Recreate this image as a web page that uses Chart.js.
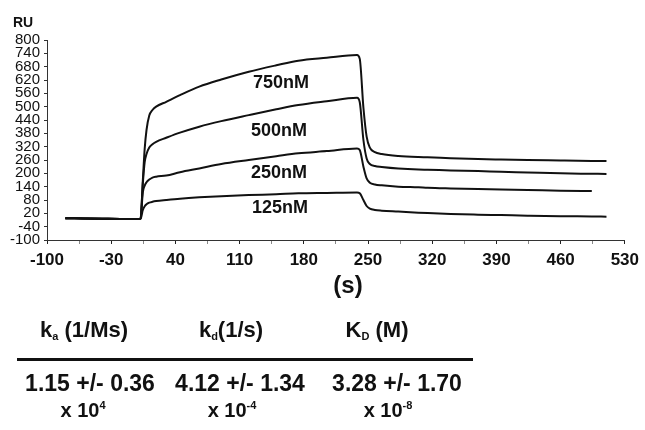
<!DOCTYPE html>
<html lang="en">

<head>
    <title>SPR sensorgram</title>
    <meta charset="utf-8">
    <script src="https://cdn.jsdelivr.net/npm/chart.js"></script>
    <style>
        body { margin: 0; background: #fff; }
        #wrap { position: relative; width: 645px; height: 430px; font-family: 'Liberation Sans', Arial, sans-serif; color: #111; }
        #wrap canvas { position: absolute; left: 0; top: 0; }
        .t { position: absolute; transform: translate(-50%, -50%); white-space: nowrap; font-weight: bold; line-height: 1; }
        .t sub { font-size: 50%; line-height: 0; vertical-align: -0.25em; }
        .t sup { font-size: 55%; line-height: 0; vertical-align: 0.7em; }
        .conc { font-size: 18px; }
        .hdr { font-size: 22px; }
        .val { font-size: 23px; }
        .exp { font-size: 20px; }
        #rule { position: absolute; left: 17px; top: 358px; width: 456px; height: 3px; background: #111; }
    </style>
</head>

<body>
    <div id="wrap">
        <canvas id="sprChart" width="645" height="430"></canvas>

        <div class="t" style="left:23px; top:22px; font-size:14px;">RU</div>
        <div class="t" style="left:348px; top:285px; font-size:24px;">(s)</div>

        <div class="t conc" style="left:281px; top:82px;">750nM</div>
        <div class="t conc" style="left:279px; top:130px;">500nM</div>
        <div class="t conc" style="left:279px; top:172px;">250nM</div>
        <div class="t conc" style="left:280px; top:207px;">125nM</div>

        <div class="t hdr" style="left:84px; top:330px;">k<sub>a</sub> (1/Ms)</div>
        <div class="t hdr" style="left:231px; top:330px;">k<sub>d</sub>(1/s)</div>
        <div class="t hdr" style="left:377px; top:330px;">K<sub>D</sub> (M)</div>
        <div id="rule"></div>
        <div class="t val" style="left:90px; top:383px;">1.15 +/- 0.36</div>
        <div class="t val" style="left:240px; top:383px;">4.12 +/- 1.34</div>
        <div class="t val" style="left:397px; top:383px;">3.28 +/- 1.70</div>
        <div class="t exp" style="left:83px; top:410px;">x 10<sup>4</sup></div>
        <div class="t exp" style="left:232px; top:410px;">x 10<sup>-4</sup></div>
        <div class="t exp" style="left:388px; top:410px;">x 10<sup>-8</sup></div>
    </div>

    <script>
        // time (s) shared by all four sensorgrams
        const times = [-80, -60, -40, -20, 0, 2, 4.5, 6.5, 8.5, 11.5, 15, 19, 30, 45, 66, 90, 120, 150, 174, 205, 238,
            241, 245, 248.5, 252, 257.5, 265, 283, 305, 315, 340, 370, 395, 424, 460, 494, 510];

        // response (RU)
        const ru750 = [-2, -3, -4, -5, -5, -4, 170, 310, 395, 460, 485, 500, 522, 552, 590, 622, 657, 686, 707, 720, 732,
            715, 495, 365, 316, 295, 287, 278, 273, 272, 268, 264, 262, 260, 258, 256, 255];
        const ru500 = [-2, -3, -4, -5, -5, -4, 155, 250, 287, 316, 331, 342, 360, 383, 410, 435, 462, 488, 507, 524, 540,
            520, 350, 267, 242, 233, 229, 222, 217, 216, 213, 210, 207, 204, 200, 198, 197];
        const ru250 = [-2, -3, -4, -5, -5, -4, 115, 145, 160, 172, 181, 185, 190, 205, 222, 242, 260, 277, 290, 300, 312,
            305, 230, 177, 158, 150, 146, 140, 137, 135, 132, 129, 127, 125, 122, 120, null];
        const ru125 = [-2, -3, -4, -5, -5, -4, 35, 52, 61, 68, 72, 75, 80, 86, 92, 97, 102, 106, 110, 112, 114,
            110, 80, 53, 41, 35, 32, 28, 23, 21, 17, 14, 12, 9.5, 7, 6, 5];

        const seriesList = [ru750, ru500, ru250, ru125];

        const ctx = document.getElementById('sprChart').getContext('2d');

        new Chart(ctx, {
            type: 'line',
            data: {
                datasets: seriesList.map(vals => ({
                    data: times.map((t, i) => ({ x: t, y: vals[i] })),
                    borderColor: '#111',
                    borderWidth: 2,
                    pointRadius: 0,
                    fill: false,
                    cubicInterpolationMode: 'monotone'
                }))
            },
            options: {
                responsive: false,
                animation: false,
                devicePixelRatio: 1,
                layout: { padding: { left: 0, right: 17, top: 40, bottom: 160 } },
                plugins: { legend: { display: false }, tooltip: { enabled: false } },
                scales: {
                    x: {
                        type: 'linear',
                        min: -100,
                        max: 530,
                        afterFit: (scale) => { scale.height = 30; },
                        border: { color: '#333', width: 1 },
                        grid: {
                            drawOnChartArea: false,
                            tickLength: 4,
                            color: (c) => (c.tick && (c.tick.value + 100) % 70 === 0 ? '#222' : '#888')
                        },
                        ticks: {
                            stepSize: 35,
                            autoSkip: false,
                            maxRotation: 0,
                            padding: 6,
                            color: '#111',
                            font: { family: "'Liberation Sans', Arial, sans-serif", size: 17, weight: 'bold' },
                            callback: (v) => ((v + 100) % 70 === 0 ? v : '')
                        }
                    },
                    y: {
                        min: -100,
                        max: 800,
                        afterFit: (scale) => { scale.width = 47; },
                        border: { color: '#333', width: 1 },
                        grid: { drawOnChartArea: false, tickLength: 3, color: '#333' },
                        ticks: {
                            stepSize: 60,
                            autoSkip: false,
                            padding: 4,
                            color: '#111',
                            font: { family: "'Liberation Sans', Arial, sans-serif", size: 15 }
                        }
                    }
                }
            }
        });
    </script>
</body>

</html>
